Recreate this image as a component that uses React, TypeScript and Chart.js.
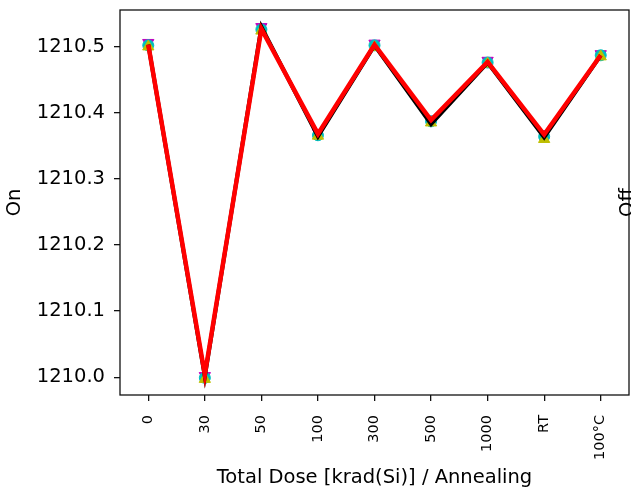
import React, { useEffect, useRef } from 'react';
import { Chart, registerables } from 'chart.js';

Chart.register(...registerables);

const categories = ['0', '30', '50', '100', '300', '500', '1000', 'RT', '100°C'];
const magentaValues = [1210.506, 1210.002, 1210.530, 1210.370, 1210.505, 1210.390, 1210.479, 1210.368, 1210.489];
const cyanValues = [1210.502, 1209.999, 1210.526, 1210.366, 1210.502, 1210.387, 1210.476, 1210.364, 1210.487];
const yellowValues = [1210.500, 1209.997, 1210.524, 1210.365, 1210.499, 1210.385, 1210.474, 1210.360, 1210.485];
const blackValues = [1210.503, 1210.001, 1210.530, 1210.364, 1210.502, 1210.383, 1210.476, 1210.363, 1210.487];
const redValues = [1210.503, 1210.004, 1210.527, 1210.368, 1210.503, 1210.389, 1210.477, 1210.367, 1210.487];
const yTicks = [1210.0, 1210.1, 1210.2, 1210.3, 1210.4, 1210.5];
const yMin = 1209.973;
const yMax = 1210.5555;

const FONT = "'DejaVu Sans', sans-serif";

const framePlugin = {
  id: 'frameAndOff',
  afterDatasetsDraw(chart: any) {
    const { ctx, chartArea } = chart;
    ctx.save();
    ctx.strokeStyle = '#111';
    ctx.lineWidth = 1.3;
    ctx.strokeRect(chartArea.left, chartArea.top, chartArea.right - chartArea.left, chartArea.bottom - chartArea.top);
    ctx.restore();
  },
  afterDraw(chart: any) {
    const { ctx, chartArea } = chart;
    ctx.save();
    ctx.fillStyle = '#000';
    ctx.font = `19.5px ${FONT}`;
    ctx.translate(633, (chartArea.top + chartArea.bottom) / 2);
    ctx.rotate(-Math.PI / 2);
    ctx.textAlign = 'center';
    ctx.textBaseline = 'alphabetic';
    ctx.fillText('Off', 0, 0);
    ctx.restore();
  },
};

export default function App() {
  const ref = useRef<HTMLCanvasElement>(null);
  useEffect(() => {
    if (!ref.current) return;
    const chart = new Chart(ref.current, {
      type: 'line',
      data: {
        labels: categories,
        datasets: [
          { label: 'red', data: redValues, borderColor: '#ff0000', backgroundColor: '#ff0000', borderWidth: 4.5, pointRadius: 0, tension: 0 },
          { label: 'black', data: blackValues, borderColor: '#000000', backgroundColor: '#000000', borderWidth: 4, pointRadius: 0, tension: 0 },
          { label: 'yellow', data: yellowValues, showLine: false, pointStyle: 'triangle', pointRadius: 6.5, borderWidth: 1, borderColor: '#bfbf00', backgroundColor: '#bfbf00' },
          { label: 'cyan', data: cyanValues, showLine: false, pointStyle: 'circle', pointRadius: 5.5, borderWidth: 1, borderColor: '#00bfbf', backgroundColor: '#00bfbf' },
          { label: 'magenta', data: magentaValues, showLine: false, pointStyle: 'triangle', rotation: 180, pointRadius: 6.5, borderWidth: 1, borderColor: '#bf00bf', backgroundColor: '#bf00bf' },
        ] as any,
      },
      options: {
        animation: false,
        responsive: false,
        events: [],
        layout: { autoPadding: false, padding: { left: 0, top: 10, right: 2, bottom: 0 } },
        plugins: { legend: { display: false }, tooltip: { enabled: false } },
        scales: {
          x: {
            type: 'category',
            offset: true,
            afterFit: (axis: any) => { axis.height = 97; axis.paddingLeft = 0; axis.paddingRight = 0; },
            grid: { drawOnChartArea: false, drawTicks: true, tickLength: 6, color: '#111', lineWidth: 1.3, offset: false },
            border: { display: false },
            ticks: { minRotation: 90, maxRotation: 90, autoSkip: false, padding: 14, color: '#000', font: { family: FONT, size: 14.5 } },
            title: { display: true, text: 'Total Dose [krad(Si)] / Annealing', color: '#000', font: { family: FONT, size: 19.5 }, padding: { top: 0, bottom: 2 } },
          },
          y: {
            type: 'linear',
            min: yMin,
            max: yMax,
            afterFit: (axis: any) => { axis.width = 120; axis.paddingTop = 0; axis.paddingBottom = 0; },
            afterBuildTicks: (axis: any) => { axis.ticks = yTicks.map((v) => ({ value: v })); },
            grid: { drawOnChartArea: false, drawTicks: true, tickLength: 6, color: '#111', lineWidth: 1.3 },
            border: { display: false },
            ticks: { padding: 9, color: '#000', font: { family: FONT, size: 19.5 }, callback: (v: any) => Number(v).toFixed(1) },
            title: { display: true, text: 'On', color: '#000', font: { family: FONT, size: 19.5 }, padding: { top: 3, bottom: 0 } },
          },
        },
      } as any,
      plugins: [framePlugin],
    });
    return () => chart.destroy();
  }, []);
  return (
    <div style={{ position: 'fixed', left: 0, top: 0, width: 631, height: 492, background: '#fff' }}>
      <canvas ref={ref} width={631} height={492} style={{ width: 631, height: 492, display: 'block' }} />
    </div>
  );
}
